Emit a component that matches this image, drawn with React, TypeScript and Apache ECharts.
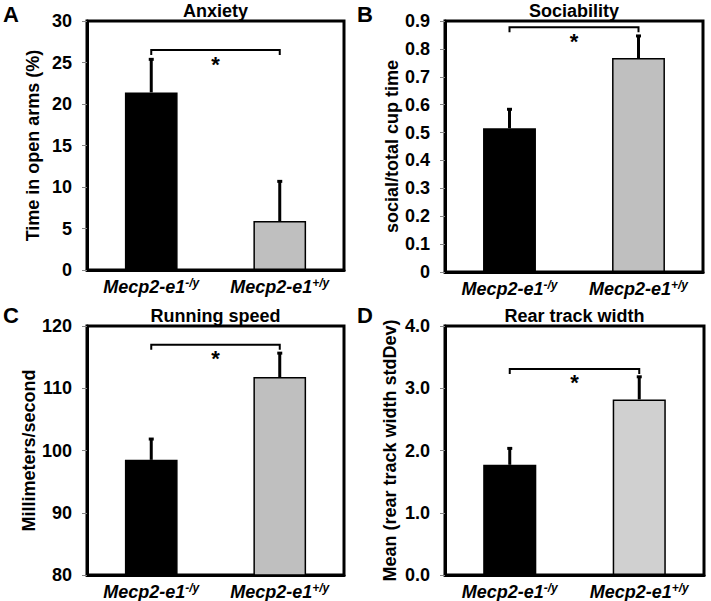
import React, { useEffect, useRef } from "react";
import * as echarts from "echarts";

const categoryBase = "Mecp2-e1";
const categorySup = ["-/y", "+/y"];
const categories = ["Mecp2-e1-/y", "Mecp2-e1+/y"];

const anxietyMean = [21.4, 5.9];
const anxietySem = [4.1, 4.9];
const sociabilityMean = [0.515, 0.767];
const sociabilitySem = [0.072, 0.083];
const runningMean = [98.5, 111.8];
const runningSem = [3.5, 4.0];
const rearMean = [1.77, 2.82];
const rearSem = [0.28, 0.38];

const panelTitles = ["Anxiety", "Sociability", "Running speed", "Rear track width"];
const panelLetters = ["A", "B", "C", "D"];
const yNames = ["Time in open arms (%)", "social/total cup time", "Millimeters/second", "Mean (rear track width stdDev)"];
const bracketLevels = [26.5, 0.878, 117, 3.31];

const FONT = "'Liberation Sans', Arial, sans-serif";

export default function App() {
  const ref = useRef<HTMLDivElement>(null);
  useEffect(() => {
    document.body.style.margin = "0";
    const chart = echarts.init(ref.current!, null, { renderer: "svg" });

    const grids = [
      { left: 87, top: 21, width: 257, height: 249 },
      { left: 445, top: 21, width: 258, height: 251 },
      { left: 87, top: 326, width: 257, height: 251 },
      { left: 445, top: 326, width: 259, height: 250 },
    ];
    const yCfg = [
      { min: 0, max: 30, interval: 5, fmt: (v: number) => String(v) },
      { min: 0, max: 0.9, interval: 0.1, fmt: (v: number) => (v === 0 ? "0" : v.toFixed(1)) },
      { min: 80, max: 120, interval: 10, fmt: (v: number) => String(v) },
      { min: 0, max: 4, interval: 1, fmt: (v: number) => v.toFixed(1) },
    ];
    const nameGaps = [45, 44, 46, 46];
    const means = [anxietyMean, sociabilityMean, runningMean, rearMean];
    const sems = [anxietySem, sociabilitySem, runningSem, rearSem];
    const grayColors = ["#bfbfbf", "#bfbfbf", "#bfbfbf", "#d0d0d0"];

    const xAxis: any[] = [];
    const yAxis: any[] = [];
    const series: any[] = [];
    const graphic: any[] = [];

    grids.forEach((g, i) => {
      xAxis.push({
        type: "category",
        gridIndex: i,
        data: categories,
        axisTick: { show: false },
        axisLine: { show: true, lineStyle: { color: "#000", width: 3 } },
        axisLabel: {
          interval: 0,
          margin: 7,
          formatter: (_v: string, idx: number) => `{b|${categoryBase}}{s|${categorySup[idx]}}`,
          rich: {
            b: { fontFamily: FONT, fontWeight: "bold", fontStyle: "italic", fontSize: 18, color: "#000", lineHeight: 20 },
            s: { fontFamily: FONT, fontWeight: "bold", fontStyle: "italic", fontSize: 12, color: "#000", verticalAlign: "top", lineHeight: 12 },
          },
        },
      });
      const yc = yCfg[i];
      yAxis.push({
        type: "value",
        gridIndex: i,
        min: yc.min,
        max: yc.max,
        interval: yc.interval,
        splitLine: { show: false },
        axisLine: { show: true, lineStyle: { color: "#000", width: 3 } },
        axisTick: { show: true, length: 5, lineStyle: { color: "#888", width: 1 } },
        axisLabel: {
          margin: 15,
          formatter: yc.fmt,
          fontFamily: FONT,
          fontWeight: "bold",
          fontSize: 18,
          color: "#000",
        },
        name: yNames[i],
        nameLocation: "middle",
        nameGap: nameGaps[i],
        nameTextStyle: { fontFamily: FONT, fontWeight: "bold", fontSize: 18, color: "#000" },
      });
      series.push({
        type: "bar",
        xAxisIndex: i,
        yAxisIndex: i,
        barWidth: "41%",
        data: means[i].map((v, k) => ({
          value: v,
          itemStyle: {
            color: k === 0 ? "#000" : grayColors[i],
            borderColor: "#000",
            borderWidth: 1.5,
          },
        })),
        z: 2,
      });
      series.push({
        type: "custom",
        xAxisIndex: i,
        yAxisIndex: i,
        data: means[i].map((v, k) => [k, v, v + sems[i][k]]),
        z: 1,
        renderItem: (_p: any, api: any) => {
          const x = api.value(0);
          const p0 = api.coord([x, api.value(1)]);
          const p1 = api.coord([x, api.value(2)]);
          return {
            type: "group",
            children: [
              { type: "line", shape: { x1: p0[0], y1: p0[1], x2: p1[0], y2: p1[1] + 1 }, style: { stroke: "#000", lineWidth: 3 } },
              { type: "line", shape: { x1: p1[0] - 2.5, y1: p1[1] + 1, x2: p1[0] + 2.5, y2: p1[1] + 1 }, style: { stroke: "#000", lineWidth: 3 } },
            ],
          };
        },
      });
      series.push({
        type: "custom",
        xAxisIndex: i,
        yAxisIndex: i,
        data: [[0, 1, bracketLevels[i]]],
        z: 3,
        renderItem: (_p: any, api: any) => {
          const lvl = api.value(2);
          const a = api.coord([api.value(0), lvl]);
          const b = api.coord([api.value(1), lvl]);
          return {
            type: "group",
            children: [
              {
                type: "polyline",
                shape: { points: [[a[0], a[1] + 5], [a[0], a[1]], [b[0], b[1]], [b[0], b[1] + 5]] },
                style: { stroke: "#000", lineWidth: 2, fill: null },
              },
              {
                type: "text",
                x: (a[0] + b[0]) / 2,
                y: a[1] + 3,
                style: { text: "*", fontFamily: FONT, fontWeight: "bold", fontSize: 22, fill: "#000", align: "center", verticalAlign: "top" },
              },
            ],
          };
        },
      });
      graphic.push({
        type: "text",
        x: g.left + g.width / 2,
        y: g.top - 10,
        style: { text: panelTitles[i], fontFamily: FONT, fontWeight: "bold", fontSize: 18, fill: "#000", align: "center", verticalAlign: "middle" },
      });
      graphic.push({
        type: "text",
        x: i % 2 === 0 ? 3 : 357,
        y: i < 2 ? 3 : 304,
        style: { text: panelLetters[i], fontFamily: FONT, fontWeight: "bold", fontSize: 22, fill: "#000" },
      });
    });

    chart.setOption({
      animation: false,
      backgroundColor: "#fff",
      grid: grids.map((g) => ({ ...g, show: true, borderColor: "#000", borderWidth: 3, backgroundColor: "transparent" })),
      xAxis,
      yAxis,
      series,
      graphic,
    });
    return () => chart.dispose();
  }, []);
  return <div ref={ref} style={{ width: 711, height: 601 }} />;
}
